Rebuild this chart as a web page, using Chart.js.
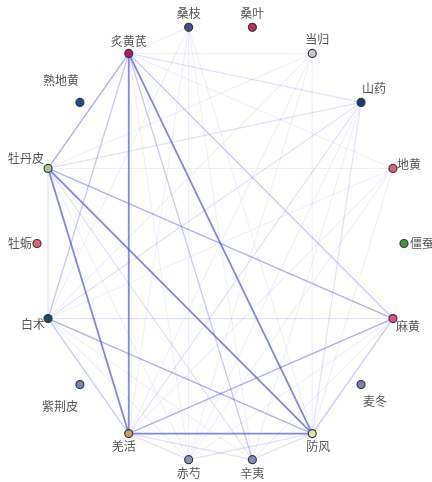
<!DOCTYPE html>
<html>
<head>
<meta charset="utf-8">
<script src="https://cdn.jsdelivr.net/npm/chart.js@4.4.1/dist/chart.umd.min.js"></script>
<style>
  html, body { margin: 0; padding: 0; background: #fff; }
  #wrap { width: 432px; height: 482px; position: relative; }
</style>
</head>
<body>
<div id="wrap"><canvas id="c"></canvas></div>
<script>
// Herbs, in order around the circle (counter-clockwise from the right)
const herbs = ['僵蚕','地黄','山药','当归','桑叶','桑枝','炙黄芪','熟地黄','牡丹皮','牡蛎','白术','紫荆皮','羌活','赤芍','辛夷','防风','麦冬','麻黄'];
const herbColors = ['#3c9a3c','#e0607a','#163c6e','#c8c8c8','#c8285a','#4a4c8c','#a8205e','#1c4c90','#a8c890','#e0607a','#1c4a6a','#6a8cb0','#c8a060','#8894b8','#7e90b8','#dde6a8','#7c84b4','#e04a86'];

// Co-occurrence links: source, target, strength (1 = weak ... 5 = strong)
const linkSource = [
  '炙黄芪','炙黄芪','牡丹皮','牡丹皮','羌活',
  '炙黄芪','牡丹皮','白术','羌活',
  '炙黄芪','白术','防风','炙黄芪','炙黄芪',
  '山药','山药','山药','白术','牡丹皮','牡丹皮','羌活','防风','羌活','防风','白术','炙黄芪',
  '炙黄芪','炙黄芪','炙黄芪','炙黄芪','地黄','地黄','地黄','地黄','当归','当归','当归','桑枝','桑枝','桑枝','桑枝','麻黄','麻黄','山药','山药','白术','白术','牡丹皮','地黄','当归','当归','桑枝'
];
const linkTarget = [
  '羌活','防风','羌活','防风','防风',
  '牡丹皮','麻黄','防风','麻黄',
  '白术','羌活','麻黄','辛夷','麻黄',
  '羌活','牡丹皮','防风','麻黄','白术','辛夷','辛夷','辛夷','赤芍','赤芍','山药','山药',
  '地黄','当归','桑枝','赤芍','羌活','牡丹皮','赤芍','白术','牡丹皮','羌活','防风','羌活','防风','赤芍','辛夷','辛夷','赤芍','辛夷','赤芍','辛夷','赤芍','赤芍','防风','白术','赤芍','白术'
];
const linkStrength = [
  5,5,5,5,5,
  4,4,4,4,
  3,3,3,3,3,
  2,2,2,2,2,2,2,2,2,2,2,2,
  1,1,1,1,1,1,1,1,1,1,1,1,1,1,1,1,1,1,1,1,1,1,1,1,1,1
];

// circular layout
function nodePos(i) {
  const a = i * 2 * Math.PI / herbs.length;
  return { x: Math.cos(a), y: Math.sin(a) };
}

const alphaFor = [0, 0.09, 0.17, 0.3, 0.45, 0.7];
const widthFor = [0, 1.1, 1.2, 1.4, 1.5, 1.8];

const linkDatasets = linkSource.map((s, k) => {
  const a = nodePos(herbs.indexOf(s));
  const b = nodePos(herbs.indexOf(linkTarget[k]));
  const w = linkStrength[k];
  return {
    type: 'line',
    data: [a, b],
    borderColor: `rgba(80,80,225,${alphaFor[w]})`,
    borderWidth: widthFor[w],
    pointRadius: 0,
    pointHoverRadius: 0,
    fill: false,
    clip: false,
    order: 10 - w
  };
});

const nodeDataset = {
  type: 'scatter',
  data: herbs.map((h, i) => nodePos(i)),
  pointBackgroundColor: herbColors,
  pointBorderColor: '#3a3a3a',
  pointBorderWidth: 1.2,
  pointRadius: 4,
  clip: false,
  order: 0
};

// label offset (px) from each node centre
const labelOffset = [[18,0],[16,-4],[13,-14],[5,-14],[0,-14],[0,-14],[0,-12],[-19,-22],[-22,-10],[-17,0],[-15,6],[-20,22],[-5,13],[0,14],[0,14],[6,13],[14,17],[15,8]];

const labelPlugin = {
  id: 'herbLabels',
  afterDatasetsDraw(chart) {
    const ctx = chart.ctx;
    const xs = chart.scales.x, ys = chart.scales.y;
    ctx.save();
    ctx.font = '12px "Noto Sans CJK SC", sans-serif';
    ctx.fillStyle = '#555555';
    ctx.textAlign = 'center';
    ctx.textBaseline = 'middle';
    herbs.forEach((h, i) => {
      const p = nodePos(i);
      const px = xs.getPixelForValue(p.x) + labelOffset[i][0];
      const py = ys.getPixelForValue(p.y) + labelOffset[i][1];
      ctx.fillText(h, px, py);
    });
    ctx.restore();
  }
};

new Chart(document.getElementById('c'), {
  type: 'scatter',
  data: { datasets: [nodeDataset, ...linkDatasets] },
  options: {
    responsive: true,
    maintainAspectRatio: false,
    animation: false,
    layout: { padding: { left: 37, right: 28, top: 24, bottom: 19 } },
    scales: {
      x: { type: 'linear', min: -1, max: 1, display: false },
      y: { type: 'linear', min: -1, max: 1, display: false }
    },
    plugins: { legend: { display: false }, tooltip: { enabled: false } }
  },
  plugins: [labelPlugin]
});
</script>
</body>
</html>
